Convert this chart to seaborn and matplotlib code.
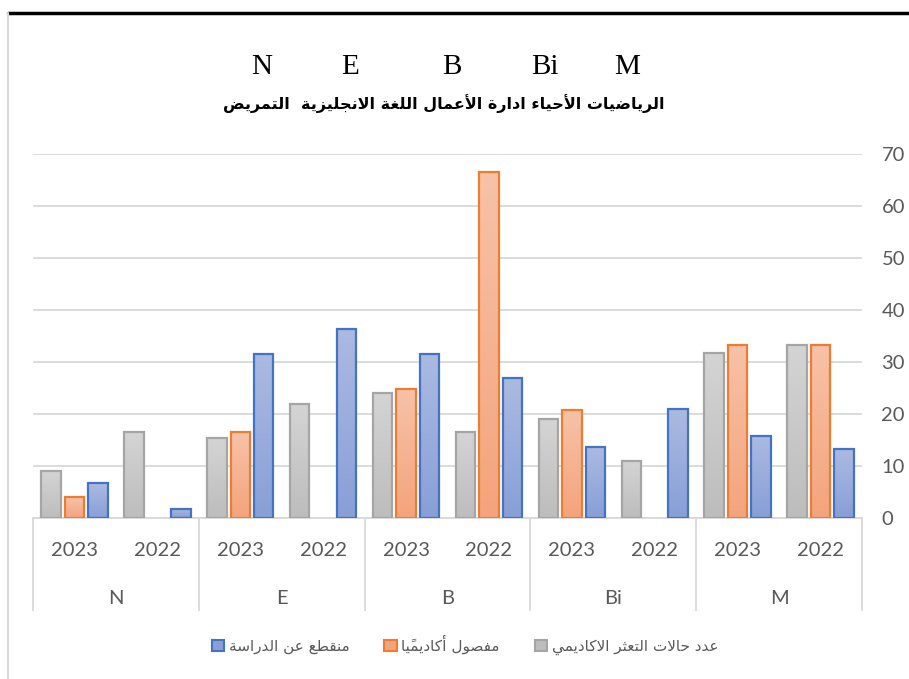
import numpy as np
import pandas as pd
import seaborn as sns
import matplotlib.pyplot as plt
from matplotlib.colors import LinearSegmentedColormap
from matplotlib.patches import Patch
from matplotlib.lines import Line2D

# data
subjects = ['N', 'E', 'B', 'Bi', 'M']
years = ['2023', '2022']
stumble = [9.0, 16.5, 15.3, 22.0, 24.1, 16.5, 19.0, 10.9, 31.8, 33.3]
dismissed = [4.0, 0, 16.5, 0, 24.9, 66.6, 20.8, 0, 33.3, 33.3]
dropped = [6.7, 1.8, 31.6, 36.4, 31.6, 26.9, 13.7, 21.0, 15.8, 13.3]
series_names = ['عدد حالات التعثر الاكاديمي', 'مفصول أكاديميًا', 'منقطع عن الدراسة']
title_ar = 'الرياضيات الأحياء ادارة الأعمال اللغة الانجليزية  التمريض'

# colours: (top of gradient, bottom of gradient, edge)
colors = [('#d4d4d4', '#bdbdbd', '#a5a5a5'),
          ('#f7c2a8', '#f4a47c', '#ed7d31'),
          ('#abbae1', '#889fd7', '#4472c4')]

# matplotlib has no arabic shaping -> use presentation forms + reverse
AR_FORMS = {
    'ء': (0xFE80, 1), 'آ': (0xFE81, 2), 'أ': (0xFE83, 2), 'ؤ': (0xFE85, 2), 'إ': (0xFE87, 2),
    'ئ': (0xFE89, 4), 'ا': (0xFE8D, 2), 'ب': (0xFE8F, 4), 'ة': (0xFE93, 2), 'ت': (0xFE95, 4),
    'ث': (0xFE99, 4), 'ج': (0xFE9D, 4), 'ح': (0xFEA1, 4), 'خ': (0xFEA5, 4), 'د': (0xFEA9, 2),
    'ذ': (0xFEAB, 2), 'ر': (0xFEAD, 2), 'ز': (0xFEAF, 2), 'س': (0xFEB1, 4), 'ش': (0xFEB5, 4),
    'ص': (0xFEB9, 4), 'ض': (0xFEBD, 4), 'ط': (0xFEC1, 4), 'ظ': (0xFEC5, 4), 'ع': (0xFEC9, 4),
    'غ': (0xFECD, 4), 'ف': (0xFED1, 4), 'ق': (0xFED5, 4), 'ك': (0xFED9, 4), 'ل': (0xFEDD, 4),
    'م': (0xFEE1, 4), 'ن': (0xFEE5, 4), 'ه': (0xFEE9, 4), 'و': (0xFEED, 2), 'ى': (0xFEEF, 2),
    'ي': (0xFEF1, 4),
    'لآ': (0xFEF5, 2), 'لأ': (0xFEF7, 2), 'لإ': (0xFEF9, 2), 'لا': (0xFEFB, 2),
}


def shape_ar(text):
    units = []
    i = 0
    while i < len(text):
        c = text[i]
        if c == 'ل' and i + 1 < len(text) and text[i + 1] in 'آأإا':
            units.append([c + text[i + 1], ''])
            i += 2
            continue
        if 0x064B <= ord(c) <= 0x0652 and units:
            units[-1][1] += c
        else:
            units.append([c, ''])
        i += 1
    out = []
    for k, (key, marks) in enumerate(units):
        if key in AR_FORMS:
            start, n = AR_FORMS[key]
            prev = units[k - 1][0] if k > 0 else None
            nxt = units[k + 1][0] if k + 1 < len(units) else None
            jp = prev in AR_FORMS and AR_FORMS[prev][1] == 4 and n >= 2
            jn = n == 4 and nxt in AR_FORMS and AR_FORMS[nxt][1] >= 2
            idx = 3 if (jp and jn) else 1 if jp else 2 if jn else 0
            out.append(chr(start + idx) + marks)
        else:
            out.append(key + marks)
    return ''.join(out[::-1])


cats = [f'{s} {y}' for s in subjects for y in years]
df = pd.DataFrame({'cat': cats * 3,
                   'series': np.repeat(series_names, len(cats)),
                   'value': stumble + dismissed + dropped})

sns.set_style('white')
plt.rcParams['font.family'] = ['Lato', 'DejaVu Sans']
txt = '#595959'
grid = '#d9d9d9'

fig = plt.figure(figsize=(9.09, 6.79), dpi=100)
ax = fig.add_axes([33 / 909, 1 - 518 / 679, (862 - 33) / 909, (518 - 154) / 679])

sns.barplot(data=df, x='cat', y='value', hue='series', order=cats,
            hue_order=series_names, palette=[c[1] for c in colors],
            width=0.85, gap=0.17, legend=False, ax=ax, zorder=3)

# gradient fill clipped to each bar
for cont, (top, bot, edge) in zip(ax.containers, colors):
    cmap = LinearSegmentedColormap.from_list('g', [bot, top])
    for p in cont:
        h = p.get_height()
        if h <= 0:
            p.set_visible(False)
            continue
        p.set_facecolor('none')
        p.set_edgecolor(edge)
        p.set_linewidth(1.6)
        p.set_zorder(4)
        x0 = p.get_x()
        im = ax.imshow(np.linspace(0, 1, 64).reshape(-1, 1), cmap=cmap, origin='lower',
                       extent=[x0, x0 + p.get_width(), 0, h], aspect='auto', zorder=3)
        im.set_clip_path(p)

ax.set_xlim(-0.5, len(cats) - 0.5)
ax.set_ylim(0, 70)
ax.set_yticks(range(0, 71, 10))
ax.yaxis.tick_right()
ax.yaxis.grid(True, color=grid, lw=1.3)
ax.set_axisbelow(True)
ax.tick_params(axis='y', length=0, pad=14, labelcolor=txt, labelsize=14.5)
ax.set_xlabel('')
ax.set_ylabel('')
for s in ['top', 'left', 'right']:
    ax.spines[s].set_visible(False)
ax.spines['bottom'].set_color(grid)
ax.spines['bottom'].set_linewidth(1.3)

# year labels + group separators
ax.set_xticks(range(len(cats)), years * len(subjects))
ax.set_xticks(np.arange(-0.5, len(cats), 2), minor=True)
ax.tick_params(axis='x', which='major', length=0, pad=17, labelcolor=txt, labelsize=14.5)
ax.tick_params(axis='x', which='minor', bottom=True, length=67, width=1.3, color=grid)

sec = ax.secondary_xaxis('bottom')
sec.set_xticks(np.arange(0.5, len(cats), 2), subjects)
sec.tick_params(length=0, pad=52, labelcolor=txt, labelsize=14.5)
sec.spines['bottom'].set_visible(False)

# title
for s, xp in zip(subjects, [262, 350, 452, 545, 627]):
    fig.text(xp / 909, 1 - 67 / 679, s, ha='center', va='center',
             family='Liberation Serif', fontsize=21, color='black')
fig.text(444 / 909, 1 - 104 / 679, shape_ar(title_ar), ha='center', va='center',
         family='DejaVu Sans', fontweight='bold', fontsize=11.5, color='black')

# legend (right-to-left order)
handles = [Patch(facecolor=c[1], edgecolor=c[2], lw=1.5) for c in colors]
order = [2, 1, 0]
fig.legend([handles[i] for i in order], [shape_ar(series_names[i]) for i in order],
           loc='center', bbox_to_anchor=(465 / 909, 1 - 645 / 679), ncol=3,
           frameon=False, handlelength=0.8, handleheight=0.8, handletextpad=0.3,
           columnspacing=2.3, prop={'family': 'DejaVu Sans', 'size': 11}, labelcolor=txt)

# chart frame bits
fig.add_artist(Line2D([8 / 909, 1], [1 - 13 / 679] * 2, color='black', lw=2.5))
fig.add_artist(Line2D([8 / 909] * 2, [0, 1 - 13 / 679], color=grid, lw=1.5))

fig.savefig('out.png', dpi=100)
